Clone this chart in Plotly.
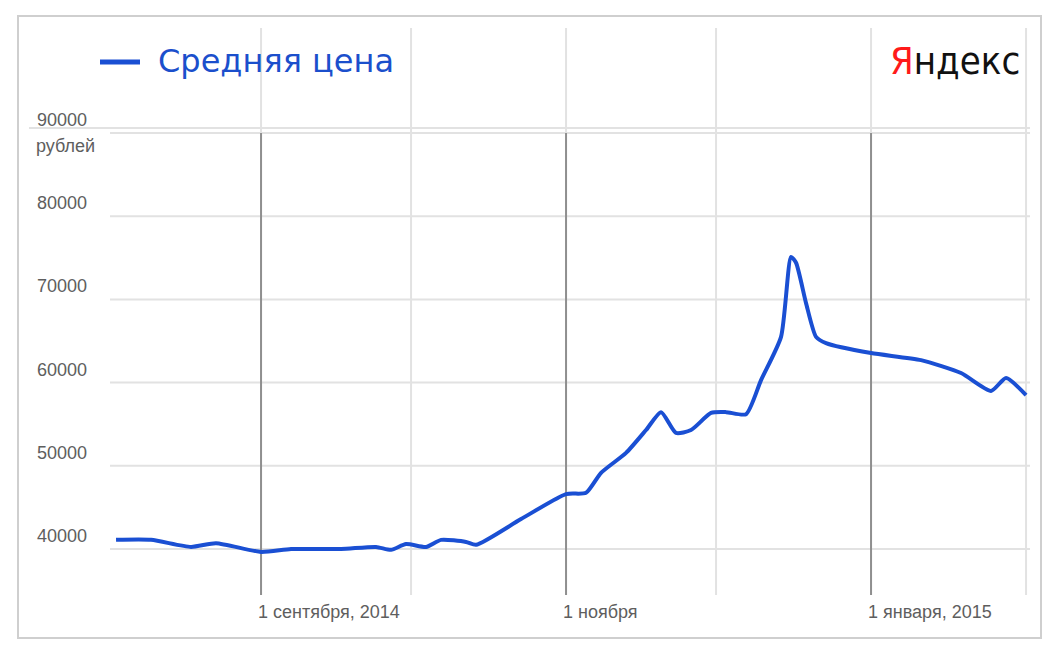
import plotly.graph_objects as go

# Средняя цена, рублей
dates = [
    "2014-08-03", "2014-08-10", "2014-08-18", "2014-08-23", "2014-09-01",
    "2014-09-07", "2014-09-17", "2014-09-24", "2014-09-27", "2014-09-30",
    "2014-10-04", "2014-10-07", "2014-10-12", "2014-10-14", "2014-10-23",
    "2014-11-01", "2014-11-05", "2014-11-08", "2014-11-13", "2014-11-17",
    "2014-11-20", "2014-11-23", "2014-11-26", "2014-11-30", "2014-12-03",
    "2014-12-07", "2014-12-10", "2014-12-14", "2014-12-16", "2014-12-17",
    "2014-12-19", "2014-12-21", "2014-12-23", "2015-01-01", "2015-01-11",
    "2015-01-19", "2015-01-25", "2015-01-28", "2015-02-01",
]
prices = [
    41100, 41100, 40250, 40700, 39650,
    40000, 40000, 40250, 39900, 40600,
    40250, 41100, 40850, 40500, 43600,
    46600, 46750, 49150, 51550, 54300,
    56450, 53950, 54300, 56350, 56450,
    56200, 60300, 65500, 75100, 74400,
    69550, 65500, 64750, 63550, 62700,
    61150, 59000, 60550, 58500,
]

y_ticks = [40000, 50000, 60000, 70000, 80000, 90000]
month_lines = ["2014-09-01", "2014-10-01", "2014-11-01", "2014-12-01", "2015-01-01", "2015-02-01"]
major_months = ["2014-09-01", "2014-11-01", "2015-01-01"]
x_labels = {"2014-09-01": "1 сентября, 2014", "2014-11-01": "1 ноября", "2015-01-01": "1 января, 2015"}

BLUE = "#1a4fd3"
GRID = "#e2e2e2"
DARK = "#8f8f8f"
LABEL = "#5e5e5e"
FONT = "Liberation Sans, Arial, sans-serif"

# страница добавляет отступ 8px, поэтому фигура чуть меньше окна
OFF = 8
W, H = 1054 - 2 * OFF, 652 - 2 * OFF
L, T = 110 - OFF, 28 - OFF
R, B = W - (1030 - OFF), H - (595 - OFF)
pw, ph = W - L - R, H - T - B


def px_x(p):
    # пиксели окна -> paper по горизонтали
    return (p - OFF - L) / pw


def px_y(p):
    # пиксели окна -> paper по вертикали
    return 1 - (p - OFF - T) / ph


fig = go.Figure()

fig.add_trace(go.Scatter(
    x=dates, y=prices,
    mode="lines",
    line=dict(color=BLUE, width=4, shape="spline", smoothing=0.6),
    hoverinfo="x+y",
    showlegend=False,
))

shapes = []
# рамка вокруг всего графика
shapes.append(dict(type="rect", xref="paper", yref="paper",
                   x0=px_x(18), x1=px_x(1041), y0=px_y(638), y1=px_y(16),
                   line=dict(color="#cfcfcf", width=2), layer="below"))

# горизонтальная сетка
for v in y_ticks:
    shapes.append(dict(type="line", xref="paper", yref="y", x0=0, x1=1, y0=v, y1=v,
                       line=dict(color=GRID, width=2), layer="below"))
# верхняя линия над 90000, от самого края
shapes.append(dict(type="line", xref="paper", yref="y", x0=px_x(29), x1=1,
                   y0=90600, y1=90600, line=dict(color=GRID, width=2), layer="below"))

# вертикальные линии месяцев
for d in month_lines:
    shapes.append(dict(type="line", xref="x", yref="paper", x0=d, x1=d, y0=0, y1=1,
                       line=dict(color=GRID, width=2), layer="below"))
for d in major_months:
    shapes.append(dict(type="line", xref="x", yref="y", x0=d, x1=d, y0=34471, y1=90000,
                       line=dict(color=DARK, width=2), layer="below"))

# линия легенды
shapes.append(dict(type="line", xref="paper", yref="paper",
                   x0=px_x(100), x1=px_x(140), y0=px_y(62), y1=px_y(62),
                   line=dict(color=BLUE, width=5)))

annotations = []
for v in y_ticks:
    annotations.append(dict(xref="paper", yref="y", x=px_x(35), y=v, text=str(v),
                            xanchor="left", yanchor="bottom", yshift=1, showarrow=False,
                            font=dict(family=FONT, size=18, color=LABEL)))
annotations.append(dict(xref="paper", yref="y", x=px_x(34), y=90000, text="рублей",
                        xanchor="left", yanchor="top", yshift=-1, showarrow=False,
                        font=dict(family=FONT, size=18, color=LABEL)))
for d, t in x_labels.items():
    annotations.append(dict(xref="x", yref="paper", x=d, y=0, text=t,
                            xanchor="left", yanchor="top", xshift=-5, yshift=-5,
                            showarrow=False, font=dict(family=FONT, size=18, color=LABEL)))

annotations.append(dict(xref="paper", yref="paper", x=px_x(156), y=px_y(61),
                        text="Средняя цена", xanchor="left", yanchor="middle", showarrow=False,
                        font=dict(family="DejaVu Sans, sans-serif", size=32, color="#1b4fcc")))
annotations.append(dict(xref="paper", yref="paper", x=px_x(1022), y=px_y(61),
                        text="<span style='color:#ff1a1a'>Я</span>ндекс",
                        xanchor="right", yanchor="middle", showarrow=False,
                        font=dict(family="DejaVu Sans Condensed, Liberation Sans Narrow, Liberation Sans, sans-serif",
                                  size=38, color="#111111")))

fig.update_layout(
    width=W, height=H,
    margin=dict(l=L, r=R, t=T, b=B),
    paper_bgcolor="white",
    plot_bgcolor="white",
    shapes=shapes,
    annotations=annotations,
    xaxis=dict(type="date", range=["2014-08-01 19:00", "2015-02-01 19:00"],
               showgrid=False, zeroline=False, showticklabels=False, showline=False),
    yaxis=dict(range=[34471, 102620], showgrid=False, zeroline=False,
               showticklabels=False, showline=False),
)

fig.write_html("out.html")
